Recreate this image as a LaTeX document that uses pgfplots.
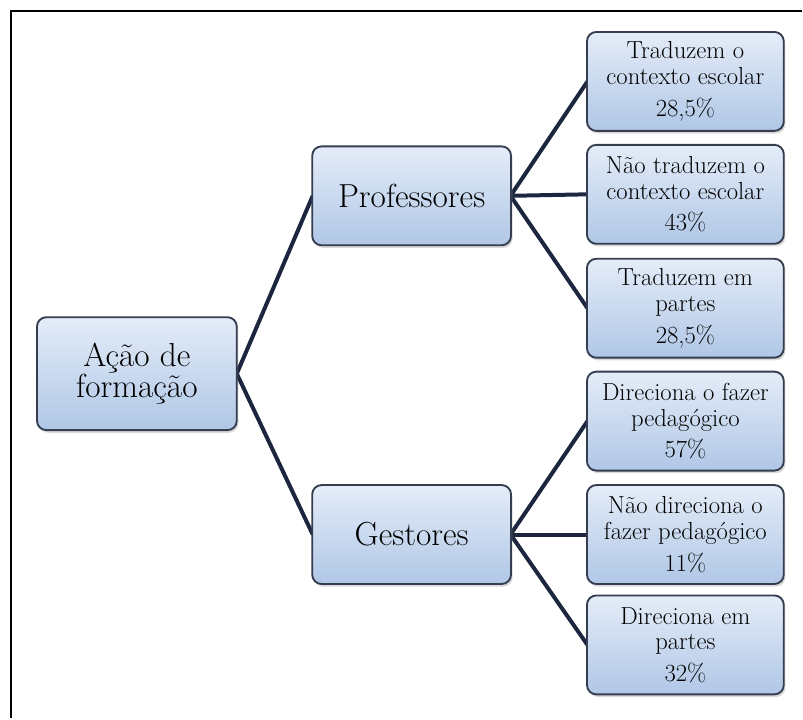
\documentclass[border=0pt]{standalone}
\usepackage{pgfplots}
\pgfplotsset{compat=1.18}
\usetikzlibrary{shadows}
\definecolor{boxtop}{RGB}{228,236,248}
\definecolor{boxbot}{RGB}{176,199,230}
\definecolor{boxborder}{RGB}{52,62,80}
\definecolor{conn}{RGB}{28,38,62}
\tikzset{
  box/.style={draw=boxborder, line width=1.4pt, rounded corners=7pt,
    top color=boxtop, bottom color=boxbot, align=center, inner sep=1pt,
    text=black, anchor=center,
    drop shadow={opacity=0.3, shadow xshift=1.2pt, shadow yshift=-2pt}},
  bigbox/.style={box, font=\rmfamily\fontsize{25}{20}\selectfont},
  smallbox/.style={box, font=\rmfamily\fontsize{18.5}{19.5}\selectfont,
    minimum width=147.75pt, minimum height=74.25pt},
}
\newcommand{\boxplot}[4]{%
  \addplot[draw=none, mark=none, nodes near coords={#4},
    every node near coord/.append style={#3}] coordinates {(#1,#2)};}
\begin{document}
\begin{tikzpicture}
\begin{axis}[
  width=602.25pt, height=539.25pt, scale only axis,
  xmin=0, xmax=803, ymin=0, ymax=719, y dir=reverse,
  axis lines=none, clip=false]
% invisible extent
\addplot[draw=none, mark=none] coordinates {(0,0) (803,719)};
% frame
\addplot[black, line width=1.1pt, mark=none] coordinates {(11,719) (11,11) (803,11)};
% connectors
\addplot[conn, line width=3pt, mark=none] coordinates {(313,196) (237,374) (313,535)};
\addplot[conn, line width=3pt, mark=none] coordinates {(588,81.5) (511,196) (588,308.5)};
\addplot[conn, line width=3pt, mark=none] coordinates {(511,196) (588,194.5)};
\addplot[conn, line width=3pt, mark=none] coordinates {(588,421.5) (511,535) (588,645.5)};
\addplot[conn, line width=3pt, mark=none] coordinates {(511,535) (588,535)};
% boxes
\boxplot{137}{374}{bigbox, minimum width=150pt, minimum height=84.75pt}{Ação de\\formação}
\boxplot{412}{196}{bigbox, minimum width=149.25pt, minimum height=74.25pt}{Professores}
\boxplot{412}{535}{bigbox, minimum width=149.25pt, minimum height=74.25pt}{Gestores}
\boxplot{686}{81.5}{smallbox}{Traduzem o\\contexto escolar\\[4pt]28,5\%}
\boxplot{686}{194.5}{smallbox}{Não traduzem o\\contexto escolar\\[4pt]43\%}
\boxplot{686}{308.5}{smallbox}{Traduzem em\\partes\\[4pt]28,5\%}
\boxplot{686}{421.5}{smallbox}{Direciona o fazer\\pedagógico\\[4pt]57\%}
\boxplot{686}{535}{smallbox}{Não direciona o\\fazer pedagógico\\[4pt]11\%}
\boxplot{686}{645.5}{smallbox}{Direciona em\\partes\\[4pt]32\%}
\end{axis}
\end{tikzpicture}
\end{document}
